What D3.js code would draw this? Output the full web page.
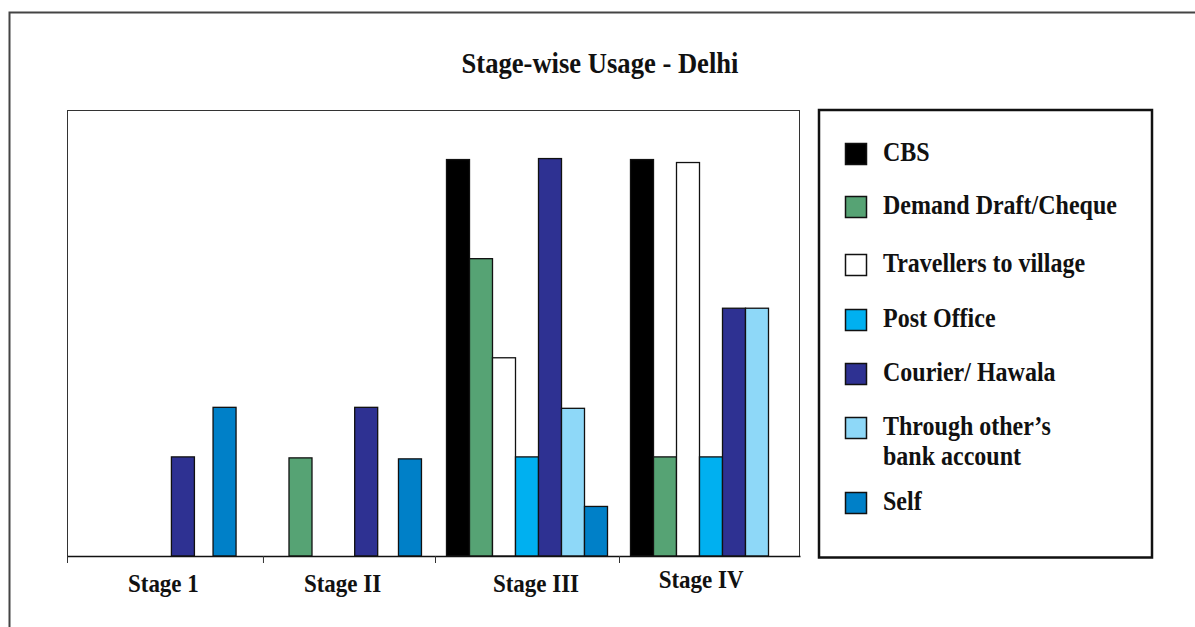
<!DOCTYPE html>
<html>
<head>
<meta charset="utf-8">
<script src="https://cdn.jsdelivr.net/npm/d3@7"></script>
<style>
  html, body { margin: 0; padding: 0; background: #fff; }
  svg text { font-family: "Liberation Serif", "Times New Roman", serif; font-weight: bold; fill: #111; }
</style>
</head>
<body>
<svg id="chart" width="1195" height="627"></svg>
<script>
// ---- data ----
const stages = ["Stage 1", "Stage II", "Stage III", "Stage IV"];
const seriesNames = ["CBS", "Demand Draft/Cheque", "Travellers to village", "Post Office",
                     "Courier/ Hawala", "Through other\u2019s\nbank account", "Self"];
const cbs           = [null, null, 4.0,  4.0];
const demandDraft   = [null, 0.99, 3.0,  1.0];
const travellers    = [null, null, 2.0,  3.97];
const postOffice    = [null, null, 1.0,  1.0];
const courier       = [1.0,  1.5,  4.01, 2.5];
const othersAccount = [null, null, 1.49, 2.5];
const self          = [1.5,  0.98, 0.5,  null];
const seriesValues = [cbs, demandDraft, travellers, postOffice, courier, othersAccount, self];

// ---- styles & layout ----
const seriesColors = ["#000000", "#56a374", "#ffffff", "#00b0f0", "#2e3192", "#8ed8f8", "#0080c8"];
const plot = { left: 67, top: 110, right: 800, bottom: 556 };
const slotPx = 23;                         // one bar width
const stageEdges = [0, 8.52, 16, 24];      // tick positions, in bar-slot units
const stageSlots = [                       // where each stage's series slots start, and their pitch
  { start: 0.92, step: 0.905 },
  { start: 8.70, step: 0.952 },
  { start: 16.5, step: 1 },
  { start: 24.5, step: 1 }
];
const stageLabelAt = [4.19, 11.98, 20.39, 27.57];
const stageLabelDy = [36, 36, 36, 32];
const textStretch = 1.1;

const svg = d3.select("#chart");

const x = d3.scaleLinear()
  .domain([0, (plot.right - plot.left) / slotPx])
  .range([plot.left, plot.right]);
const y = d3.scaleLinear().domain([0, 4.5]).range([plot.bottom, plot.top]);

function stretchedText(g, px, py, str, anchor, size) {
  return g.append("text")
    .attr("transform", `translate(${px},${py}) scale(1,${textStretch})`)
    .attr("text-anchor", anchor)
    .style("font-size", size + "px")
    .text(str);
}

// outer frame
svg.append("rect")
  .attr("x", 9.5).attr("y", 12.5).attr("width", 1200).attr("height", 700)
  .attr("fill", "none").attr("stroke", "#444").attr("stroke-width", 2);

// title
stretchedText(svg, 600, 73, "Stage-wise Usage - Delhi", "middle", 26.6);

// plot frame
svg.append("rect")
  .attr("x", plot.left + 0.5).attr("y", plot.top + 0.5)
  .attr("width", plot.right - plot.left - 1).attr("height", plot.bottom - plot.top)
  .attr("fill", "none").attr("stroke", "#333").attr("stroke-width", 1);

// bars
const barData = [];
seriesValues.forEach((vals, s) => {
  vals.forEach((v, i) => {
    if (v !== null) barData.push({ s, i, v });
  });
});
svg.append("g").selectAll("rect").data(barData).join("rect")
  .attr("x", d => x(stageSlots[d.i].start + stageSlots[d.i].step * d.s))
  .attr("y", d => y(d.v))
  .attr("width", x(1) - x(0))
  .attr("height", d => y(0) - y(d.v))
  .attr("fill", d => seriesColors[d.s])
  .attr("stroke", "#111")
  .attr("stroke-width", 1.3);

// x axis with stage separators
const axis = d3.axisBottom(x)
  .tickValues(stageEdges)
  .tickFormat("")
  .tickSize(7)
  .tickSizeOuter(0);
const axisG = svg.append("g").attr("transform", `translate(0,${plot.bottom})`).call(axis);
axisG.select(".domain").attr("stroke", "#111").attr("stroke-width", 1.3);
axisG.selectAll(".tick line").attr("stroke", "#333");

// stage labels
stages.forEach((name, i) => {
  stretchedText(svg, x(stageLabelAt[i]), plot.bottom + stageLabelDy[i], name, "middle", 23);
});

// legend
const legend = { left: 819, top: 110, right: 1152, bottom: 557.5 };
svg.append("rect")
  .attr("x", legend.left).attr("y", legend.top)
  .attr("width", legend.right - legend.left).attr("height", legend.bottom - legend.top)
  .attr("fill", "none").attr("stroke", "#111").attr("stroke-width", 2.5);

const legendRowTop = [143, 196, 254, 309, 363, 417, 492];
const lg = svg.append("g");
seriesNames.forEach((name, s) => {
  const top = legendRowTop[s];
  lg.append("rect")
    .attr("x", 845.5).attr("y", top + 0.5).attr("width", 21).attr("height", 21)
    .attr("fill", seriesColors[s]).attr("stroke", "#111").attr("stroke-width", 1.5);
  name.split("\n").forEach((line, k) => {
    stretchedText(lg, 883, top + 18 + k * 30, line, "start", 24);
  });
});
</script>
</body>
</html>
